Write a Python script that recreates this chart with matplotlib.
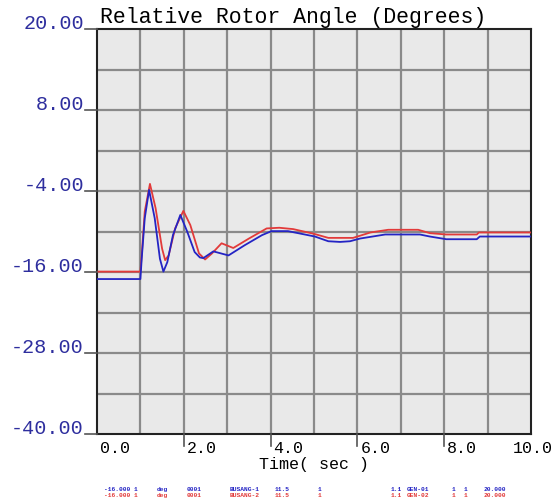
import numpy as np
import matplotlib.pyplot as plt

# red trace (time in s, angle in degrees)
red_t = [0, 1.0, 1.03, 1.1, 1.22, 1.35, 1.5, 1.57, 1.65, 1.8, 1.99, 2.15, 2.35,
         2.49, 2.65, 2.87, 3.14, 3.5, 3.91, 4.2, 4.52, 5.0, 5.33, 5.9, 6.3,
         6.71, 7.4, 7.67, 8.05, 8.75, 8.8, 10.0]
red_v = [-15.9, -15.9, -13.5, -7.0, -2.9, -6.5, -12.5, -14.2, -13.5, -9.5, -6.9,
         -9.0, -13.2, -14.1, -13.2, -11.7, -12.4, -11.0, -9.5, -9.4, -9.6,
         -10.3, -10.9, -10.9, -10.1, -9.7, -9.7, -10.2, -10.4, -10.4, -10.1, -10.1]

# blue trace
blue_t = [0, 1.0, 1.03, 1.1, 1.2, 1.33, 1.45, 1.53, 1.62, 1.75, 1.92, 2.08, 2.25,
          2.37, 2.45, 2.68, 3.03, 3.4, 3.8, 4.02, 4.4, 5.02, 5.33, 5.6, 5.83,
          6.06, 6.64, 7.44, 7.67, 8.05, 8.75, 8.82, 10.0]
blue_v = [-17.0, -17.0, -14.0, -8.0, -3.8, -8.0, -14.0, -15.9, -14.5, -10.5, -7.5,
          -10.0, -13.0, -13.8, -13.9, -12.9, -13.5, -12.0, -10.5, -9.9, -9.9,
          -10.7, -11.4, -11.5, -11.4, -11.0, -10.4, -10.4, -10.7, -11.1, -11.1,
          -10.7, -10.7]

x_ticks = [0, 2, 4, 6, 8]
x_labels = ['0.0', '2.0', '4.0', '6.0', '8.0']
y_ticks = [20, 8, -4, -16, -28, -40]
y_labels = ['20.00', '8.00', '-4.00', '-16.00', '-28.00', '-40.00']

# legend-ish footer segments (illegible in the source, approximated)
footer_x = [104, 157, 187, 230, 275, 318, 391, 407, 452, 464, 484]
footer_blue = ['-16.000 1', 'deg', '0001', 'BUSANG-1', '11.5', '1',
               '1.1', 'GEN-01', '1', '1', '20.000']
footer_red = ['-16.000 1', 'deg', '0001', 'BUSANG-2', '11.5', '1',
              '1.1', 'GEN-02', '1', '1', '20.000']

W, H = 556, 499
mono = 'Liberation Mono'
tick_blue = '#2e2e9e'

fig = plt.figure(figsize=(W / 100, H / 100), dpi=100)
fig.patch.set_facecolor('white')
ax = fig.add_axes([97 / W, 1 - 434.3 / H, 434 / W, 405 / H])
ax.set_facecolor('#e9e9e9')
ax.set_xlim(0, 10)
ax.set_ylim(-40, 20)

for t in np.arange(1, 10):
    ax.axvline(t, color='#8a8a8a', lw=1.6, zorder=1)
for v in np.arange(-34, 20, 6):
    ax.axhline(v, color='#8a8a8a', lw=1.6, zorder=1)

ax.plot(red_t, red_v, color='#e23a3a', lw=1.3, zorder=3)
ax.plot(blue_t, blue_v, color='#2424c4', lw=1.3, zorder=4)

for s in ax.spines.values():
    s.set_linewidth(1.5)
    s.set_color('#222222')
ax.set_xticks([])
ax.set_yticks([])

# y tick labels and dashes
for v, lab in zip(y_ticks, y_labels):
    yp = 1 - (29.3 + (20 - v) * 6.75) / H
    fig.text(84 / W, yp, lab, ha='right', va='baseline', fontsize=14.5,
             family=mono, color=tick_blue)
    fig.add_artist(plt.Line2D([85 / W, 97 / W], [yp, yp], color='#555555', lw=1.2))

# x tick marks and labels
for t, lab in zip(x_ticks, x_labels):
    xp = (97 + 43.4 * t) / W
    if t > 0:
        fig.add_artist(plt.Line2D([xp, xp], [1 - 434.3 / H, 1 - 446 / H],
                                  color='#555555', lw=1.2))
    fig.text(xp + 3 / W, 1 - 453 / H, lab, ha='left', va='baseline', fontsize=12,
             family=mono, color='black')
fig.text(553 / W, 1 - 453 / H, '10.0', ha='right', va='baseline', fontsize=12,
         family=mono, color='black')
fig.text(314 / W, 1 - 469 / H, 'Time( sec )', ha='center', va='baseline',
         fontsize=12, family=mono, color='black')

fig.text(100 / W, 1 - 23 / H, 'Relative Rotor Angle (Degrees)', ha='left',
         va='baseline', fontsize=15.5, family=mono, color='black')

for xp, b, r in zip(footer_x, footer_blue, footer_red):
    fig.text(xp / W, 1 - 491 / H, b, fontsize=4.5, family=mono, color='#2424c4',
             fontweight='bold', va='baseline')
    fig.text(xp / W, 1 - 497 / H, r, fontsize=4.5, family=mono, color='#e23a3a',
             fontweight='bold', va='baseline')

fig.savefig('out.png', dpi=100)
